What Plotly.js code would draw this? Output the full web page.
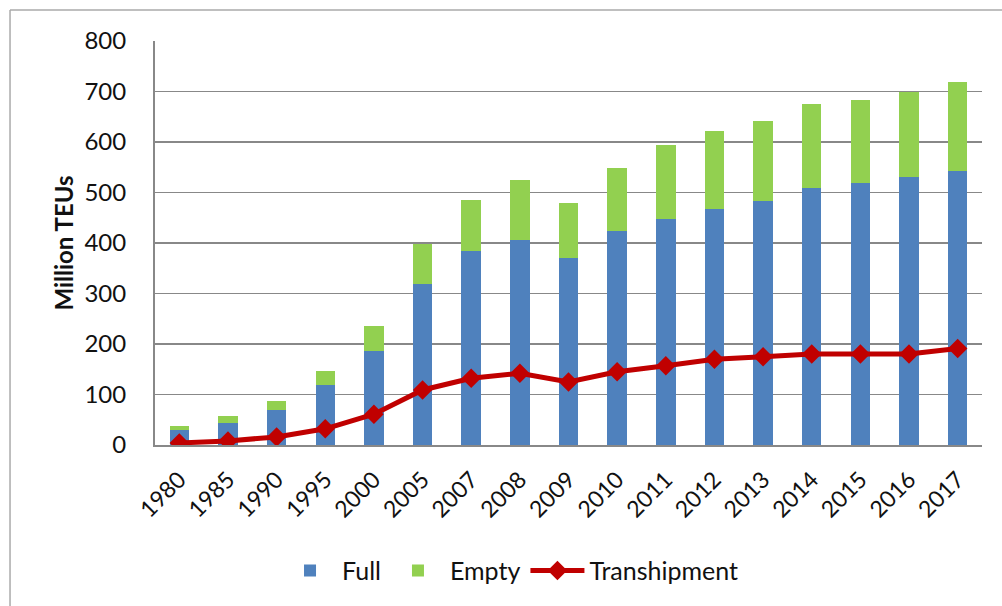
<!DOCTYPE html>
<html>
<head>
<meta charset="utf-8">
<script src="https://cdn.plot.ly/plotly-3.0.1.min.js"></script>
<style>html,body{margin:0;padding:0;background:#fff;}#chart{width:1002px;height:606px;}</style>
</head>
<body>
<div id="chart"></div>
<script>
const years = ["1980","1985","1990","1995","2000","2005","2007","2008","2009","2010","2011","2012","2013","2014","2015","2016","2017"];
const full = [30,43,69,119,186,318,384,406,371,424,448,467,483,508,519,530,543];
const empty = [8,14,19,27,50,81,101,119,108,124,146,155,159,167,164,169,175];
const transhipment = [4,8,16,32,61,109,132,142,125,145,157,170,175,180,180,180,191];

const FONT = "Lato, 'Open Sans', sans-serif";

const traces = [
  {type:'bar', name:'Full', x:years, y:full, marker:{color:'#4F81BD'}},
  {type:'bar', name:'Empty', x:years, y:empty, marker:{color:'#92D050'}},
  {type:'scatter', mode:'lines+markers', name:'Transhipment', x:years, y:transhipment,
   line:{color:'#C00000', width:5}, marker:{symbol:'diamond', size:15, color:'#C00000'}}
];

const layout = {
  width:1002, height:606,
  margin:{l:155, r:20, t:41, b:161},
  barmode:'stack', bargap:0.6,
  paper_bgcolor:'#fff', plot_bgcolor:'#fff',
  font:{family:FONT, color:'#111', size:23},
  showlegend:true,
  legend:{orientation:'h', xref:'container', yref:'container', x:0.51, xanchor:'center', y:0.058, yanchor:'middle',
          font:{size:25, family:FONT}, itemwidth:54, traceorder:'normal'},
  xaxis:{type:'category', range:[-0.5, years.length-0.5], tickangle:-45, showgrid:false, showline:true, linecolor:'#888', linewidth:2,
         ticks:'outside', ticklen:10, tickcolor:'rgba(0,0,0,0)', tickfont:{size:23, family:FONT}},
  yaxis:{range:[0,800], dtick:100, showgrid:true, gridcolor:'#888', gridwidth:1.5, zeroline:false,
         showline:true, linecolor:'#888', linewidth:2,
         ticks:'outside', ticklen:22, tickcolor:'rgba(0,0,0,0)', tickfont:{size:24, family:FONT},
         title:{text:'<b>Million TEUs</b>', font:{size:24, family:FONT}, standoff:4}},
  shapes:[
    {type:'line', xref:'paper', yref:'paper', x0:-0.1753, x1:-0.1753, y0:1.0767, y1:-0.45, line:{color:'#aaa', width:1.5}},
    {type:'line', xref:'paper', yref:'paper', x0:-0.1753, x1:1.05, y0:1.0767, y1:1.0767, line:{color:'#aaa', width:1.5}}
  ]
};

Plotly.newPlot('chart', traces, layout, {displayModeBar:false, staticPlot:true});
</script>
</body>
</html>
